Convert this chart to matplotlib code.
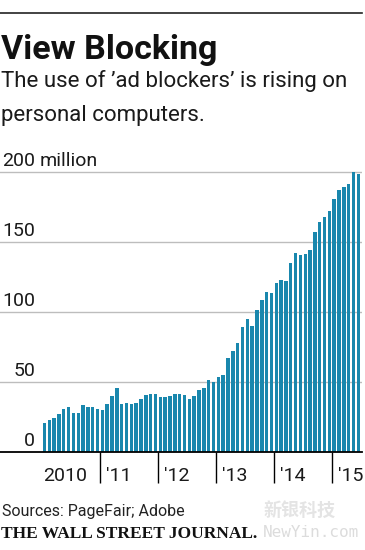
#!/usr/bin/env python3
import matplotlib
matplotlib.use('Agg')
import matplotlib.pyplot as plt
import matplotlib.transforms as mtransforms

# monthly ad-blocker users, millions (Jan 2010 .. Jun 2015)
users_2010 = [21, 23, 24, 27, 31, 32.4, 28, 28, 33.6, 32.4, 32, 30.5]
users_2011 = [30, 34, 40, 45.7, 34.5, 35, 34, 35, 37.6, 41, 41.4, 41.4]
users_2012 = [39, 39, 40, 41.4, 41.4, 41, 38, 40, 44, 46, 51.4, 50]
users_2013 = [53.5, 55.3, 67, 72.2, 78.2, 89.5, 95, 90.3, 101.4, 108.6, 114.4, 113.4]
users_2014 = [121, 123, 122, 134.8, 142, 141, 141.5, 144, 157.3, 164, 167.5, 171.8]
users_2015 = [181, 187, 189, 191.4, 200, 198.3]
users = users_2010 + users_2011 + users_2012 + users_2013 + users_2014 + users_2015

year_labels = ['2010', "'11", "'12", "'13", "'14", "'15"]
y_values = [0, 50, 100, 150, 200]

W, H = 365, 550
SANS = ['Roboto', 'DejaVu Sans']
BAR = '#1987ad'
TXT = '#1a1a1a'


def fx(px):
    return px / W


def fy(py):
    return 1 - py / H


fig = plt.figure(figsize=(W / 100, H / 100), dpi=100)
ax = fig.add_axes([0, fy(452), fx(362), (452 - 165) / H])

x = list(range(len(users)))
ax.bar(x, users, width=0.72, color=BAR, zorder=2)
ax.set_xlim(-9.2, 65.75)
ax.set_ylim(0, 205)

for v in y_values[1:]:
    ax.axhline(v, color='#bdbdbd', lw=1.0, zorder=1)

for s in ['top', 'right', 'left']:
    ax.spines[s].set_visible(False)
ax.spines['bottom'].set_color('black')
ax.spines['bottom'].set_linewidth(1.3)
ax.spines['bottom'].set_zorder(3)

# year boundaries as long ticks below the axis
bounds = [12 * k - 0.5 for k in range(1, len(year_labels))]
ax.set_xticks(bounds)
ax.set_xticklabels([])
ax.tick_params(axis='x', direction='out', length=22, width=1.0, color='black')
ax.set_yticks([])

xtrans = mtransforms.blended_transform_factory(ax.transData, fig.transFigure)
for k, lab in enumerate(year_labels):
    xpos = -0.3 if k == 0 else 12 * k - 0.5 + 1.2
    ax.text(xpos, fy(481), lab, transform=xtrans, ha='left', va='baseline',
            fontsize=14, color=TXT, family=SANS)

ytrans = mtransforms.blended_transform_factory(fig.transFigure, ax.transData)
ytrans = mtransforms.offset_copy(ytrans, fig=fig, x=0, y=5.5, units='dots')
for v in y_values:
    ax.text(fx(35), v, str(v), transform=ytrans, ha='right', va='baseline',
            fontsize=14, color=TXT, family=SANS)
ax.text(fx(39.5), y_values[-1], 'million', transform=ytrans, ha='left',
        va='baseline', fontsize=14, color=TXT, family=SANS)

# header
fig.add_artist(plt.Line2D([0, fx(362)], [fy(13), fy(13)], color='#222222', lw=1.2))
fig.text(fx(1), fy(59.5), 'View Blocking', fontsize=24.5, fontweight='bold',
         color='#111111', family=SANS, va='baseline')
fig.text(fx(1), fy(87.5), 'The use of \u2019ad blockers\u2019 is rising on',
         fontsize=16, color=TXT, family=SANS, va='baseline')
fig.text(fx(1), fy(120.5), 'personal computers.',
         fontsize=16, color=TXT, family=SANS, va='baseline')

# footer
fig.text(fx(2), fy(516), 'Sources: PageFair; Adobe', fontsize=11.5,
         color='#222222', family=SANS, va='baseline')
fig.text(fx(1), fy(538), 'THE WALL STREET JOURNAL.', fontsize=12.5,
         fontweight='bold', color='#111111', family='Liberation Serif',
         va='baseline')

# site watermark
fig.text(fx(264), fy(516), '新银科技', fontsize=13, color='#e4e4e4',
         fontweight='bold', family=['Noto Sans CJK SC', 'DejaVu Sans'],
         va='baseline')
fig.text(fx(263), fy(537), 'NewYin.com', fontsize=11.5, color='#dcdcdc',
         family='DejaVu Sans Mono', va='baseline')

fig.savefig('out.png', dpi=100)
